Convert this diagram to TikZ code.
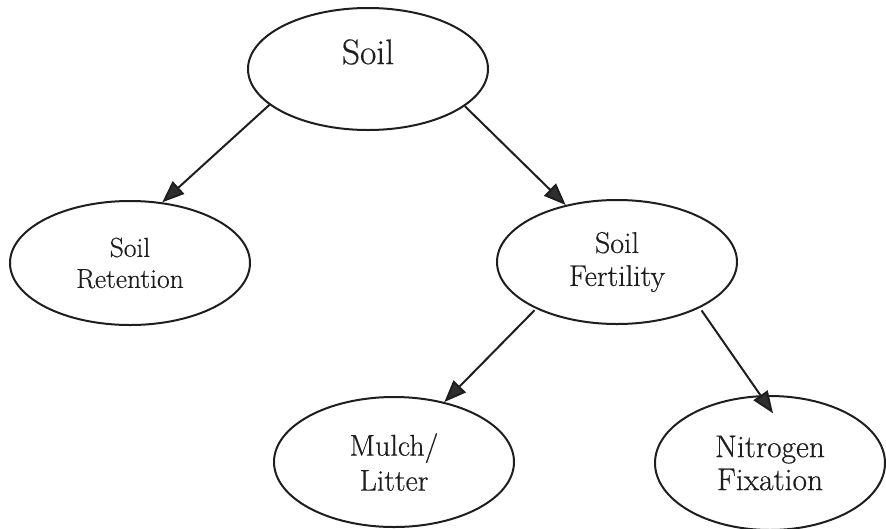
\documentclass[tikz,border=0pt]{standalone}
\usepackage{fontspec}
\newfontfamily\labelfont{Latin Modern Roman}[FakeBold=0.5]
\usetikzlibrary{shapes.geometric,arrows.meta}
\definecolor{ink}{HTML}{1E1E1E}
\definecolor{headink}{HTML}{2E2E2E}
\tikzset{
  bubble/.style={ellipse, draw=ink, line width=2pt, inner sep=0pt,
                 align=center, text=ink},
  link/.style={draw=ink, line width=2pt,
               -{Triangle[length=22pt,width=17pt,fill=headink]}},
}
\begin{document}
\begin{tikzpicture}[x=1pt,y=-1pt]
  \useasboundingbox (0,0) rectangle (886,528);

  % concept ellipses
  \node[bubble, minimum width=240pt, minimum height=122pt] (soil) at (368,69) {};
  \node[text=ink, font=\labelfont\fontsize{35.5}{38}\selectfont] (soiltxt) at (368,52) {Soil};

  \node[bubble, minimum width=240pt, minimum height=124pt,
        font=\labelfont\fontsize{27.5}{31}\selectfont] (ret) at (130,263) {Soil\\Retention};
  \node[bubble, minimum width=240pt, minimum height=124pt,
        font=\labelfont\fontsize{30}{33}\selectfont] (fert) at (617,262) {Soil\\Fertility};
  \node[bubble, minimum width=240pt, minimum height=130pt,
        font=\labelfont\fontsize{30}{35}\selectfont] (mulch) at (394,462) {Mulch/\\Litter};
  \node[bubble, minimum width=230pt, minimum height=134pt,
        font=\labelfont\fontsize{31.5}{33}\selectfont] (nitro) at (770,463) {Nitrogen\\Fixation};

  % connectors
  \draw[link] (soil.200.6) -- (ret.62.7);
  \draw[link] (soil.339.6) -- (fert.132);
  \draw[link, shorten <=2pt] (fert.210.3) -- (mulch.50.3);
  \draw[link, shorten <=3pt, shorten >=-22pt] (fert.331.3) -- (nitro.98.6);
\end{tikzpicture}
\end{document}
